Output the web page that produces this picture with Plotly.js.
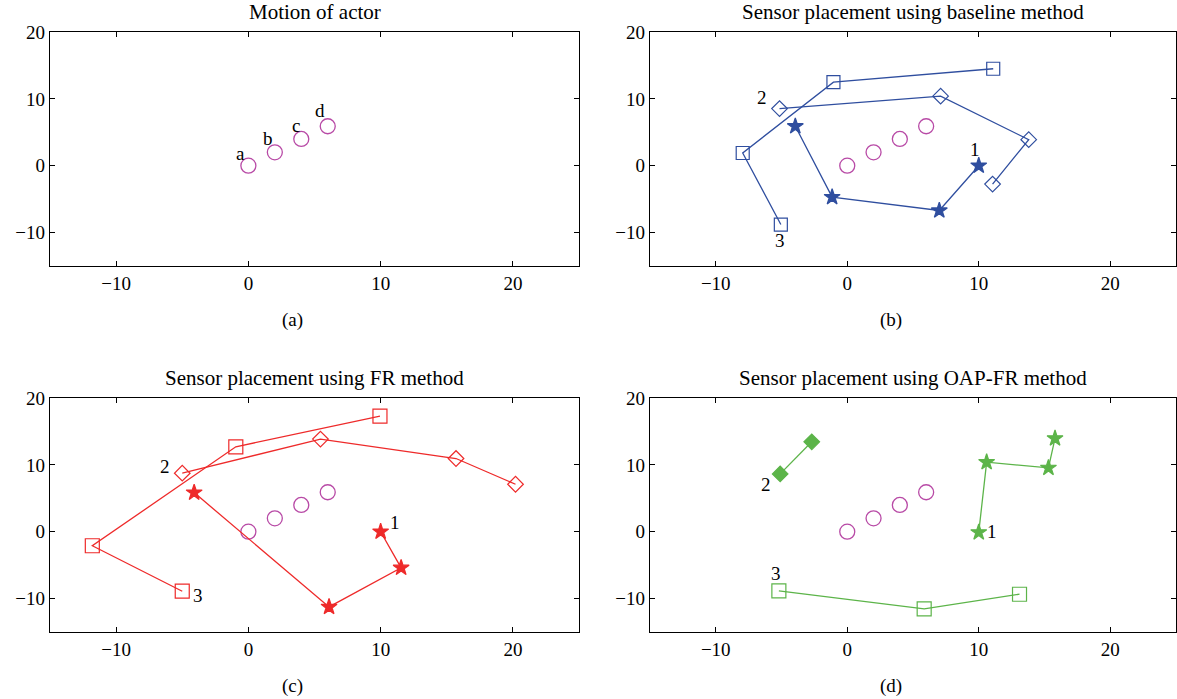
<!DOCTYPE html>
<html>
<head>
<meta charset="utf-8">
<script src="https://cdn.plot.ly/plotly-3.0.1.min.js"></script>
<style>html,body{margin:0;padding:0;background:#fff;}#chart{width:1177px;height:699px;}</style>
</head>
<body>
<div id="chart"></div>
<script>
// Actor motion (circles a-d)
const actorX = [0, 2, 4, 6];
const actorY = [0, 2, 4, 5.9];
const actorLabels = ['a', 'b', 'c', 'd'];

// Baseline method (b)
const base1X = [10, 7, -1.15, -3.95];
const base1Y = [0, -6.7, -4.7, 5.9];
const base2X = [-5.15, 7.1, 13.8, 11.05];
const base2Y = [8.55, 10.4, 3.9, -2.75];
const base3X = [-5.05, -7.95, -1.05, 11.1];
const base3Y = [-8.8, 1.9, 12.5, 14.5];

// FR method (c)
const fr1X = [10, 11.55, 6.1, -4.1];
const fr1Y = [0, -5.4, -11.25, 5.85];
const fr2X = [-5.0, 5.45, 15.7, 20.2];
const fr2Y = [8.75, 13.85, 10.95, 7.1];
const fr3X = [-5.0, -11.8, -0.95, 9.95];
const fr3Y = [-8.9, -2.1, 12.7, 17.3];

// OAP-FR method (d)
const oap1X = [10, 10.6, 15.3, 15.8];
const oap1Y = [-0.1, 10.4, 9.55, 13.95];
const oap2X = [-5.1, -2.7];
const oap2Y = [8.65, 13.45];
const oap3X = [-5.2, 5.85, 13.1];
const oap3Y = [-8.85, -11.55, -9.35];

const panelTitles = ['Motion of actor', 'Sensor placement using baseline method',
  'Sensor placement using FR method', 'Sensor placement using OAP-FR method'];
const panelLetters = ['(a)', '(b)', '(c)', '(d)'];
const tickVals = [-10, 0, 10, 20];

const BLUE = '#2f4e9f', RED = '#ee2a2a', GREEN = '#5cb449', MAG = '#b84aa6';
const FONT = 'Liberation Serif, Times New Roman, serif';

function actor(xa, ya) {
  return {x: actorX, y: actorY, xaxis: xa, yaxis: ya, mode: 'markers', type: 'scatter',
    marker: {symbol: 'circle-open', size: 15, color: MAG, line: {width: 1.3, color: MAG}},
    hoverinfo: 'skip'};
}
function path(x, y, xa, ya, color, symbol, size) {
  return {x: x, y: y, xaxis: xa, yaxis: ya, mode: 'lines+markers', type: 'scatter',
    line: {color: color, width: 1.3},
    marker: {symbol: symbol, size: size, color: color, line: {width: 1.2, color: color}},
    hoverinfo: 'skip'};
}

const data = [
  actor('x', 'y'),
  actor('x2', 'y2'),
  path(base1X, base1Y, 'x2', 'y2', BLUE, 'star', 12),
  path(base2X, base2Y, 'x2', 'y2', BLUE, 'diamond-open', 12),
  path(base3X, base3Y, 'x2', 'y2', BLUE, 'square-open', 13),
  actor('x3', 'y3'),
  path(fr1X, fr1Y, 'x3', 'y3', RED, 'star', 12),
  path(fr2X, fr2Y, 'x3', 'y3', RED, 'diamond-open', 12),
  path(fr3X, fr3Y, 'x3', 'y3', RED, 'square-open', 14),
  actor('x4', 'y4'),
  path(oap1X, oap1Y, 'x4', 'y4', GREEN, 'star', 12),
  path(oap2X, oap2Y, 'x4', 'y4', GREEN, 'diamond', 12),
  path(oap3X, oap3Y, 'x4', 'y4', GREEN, 'square-open', 14)
];

function axis(domain, range, anchor) {
  return {domain: domain, range: range, anchor: anchor, tickvals: tickVals,
    ticks: 'inside', ticklen: 5, tickwidth: 1, tickcolor: '#000', mirror: 'ticks',
    showline: true, linecolor: '#000', linewidth: 1.3, showgrid: false, zeroline: false,
    tickfont: {family: FONT, size: 19, color: '#000'}, fixedrange: true};
}
const xL = [50/1177, 579/1177], xR = [650/1177, 1176/1177];
const yT = [1 - 266/699, 1 - 32/699], yB = [1 - 632/699, 1 - 398/699];
const XR = [-15, 25], YR = [-15, 20];

const annotations = [];
const axesIds = [['x', 'y'], ['x2', 'y2'], ['x3', 'y3'], ['x4', 'y4']];
axesIds.forEach((a, i) => {
  annotations.push({xref: a[0] + ' domain', yref: a[1] + ' domain', x: 0.5, y: 1,
    yanchor: 'bottom', xanchor: 'center', yshift: 6, showarrow: false,
    text: panelTitles[i], font: {family: FONT, size: 21, color: '#000'}});
  annotations.push({xref: a[0] + ' domain', yref: a[1] + ' domain', x: 0.5, y: 0,
    yanchor: 'middle', xanchor: 'center', xshift: -22, yshift: -54, showarrow: false,
    text: panelLetters[i], font: {family: FONT, size: 19, color: '#000'}});
});
function lab(xa, ya, x, y, t) {
  annotations.push({xref: xa, yref: ya, x: x, y: y, text: t, showarrow: false,
    xanchor: 'center', yanchor: 'middle', font: {family: FONT, size: 19, color: '#000'}});
}
// actor labels (a)
const actorLabX = [-0.6, 1.5, 3.6, 5.4];
const actorLabY = [1.9, 4.0, 6.0, 8.3];
actorLabels.forEach((t, i) => lab('x', 'y', actorLabX[i], actorLabY[i], t));
// sensor labels
lab('x2', 'y2', 9.75, 2.4, '1'); lab('x2', 'y2', -6.45, 10.2, '2'); lab('x2', 'y2', -5.1, -11.2, '3');
lab('x3', 'y3', 11.1, 1.4, '1'); lab('x3', 'y3', -6.3, 9.7, '2'); lab('x3', 'y3', -3.8, -9.6, '3');
lab('x4', 'y4', 11.0, 0, '1'); lab('x4', 'y4', -6.2, 7.1, '2'); lab('x4', 'y4', -5.4, -6.3, '3');

const layout = {
  width: 1177, height: 699, margin: {l: 0, r: 0, t: 0, b: 0},
  paper_bgcolor: '#fff', plot_bgcolor: '#fff', showlegend: false,
  xaxis: axis(xL, XR, 'y'), yaxis: axis(yT, YR, 'x'),
  xaxis2: axis(xR, XR, 'y2'), yaxis2: axis(yT, YR, 'x2'),
  xaxis3: axis(xL, XR, 'y3'), yaxis3: axis(yB, YR, 'x3'),
  xaxis4: axis(xR, XR, 'y4'), yaxis4: axis(yB, YR, 'x4'),
  annotations: annotations
};
Plotly.newPlot('chart', data, layout, {displayModeBar: false, staticPlot: true});
</script>
</body>
</html>
